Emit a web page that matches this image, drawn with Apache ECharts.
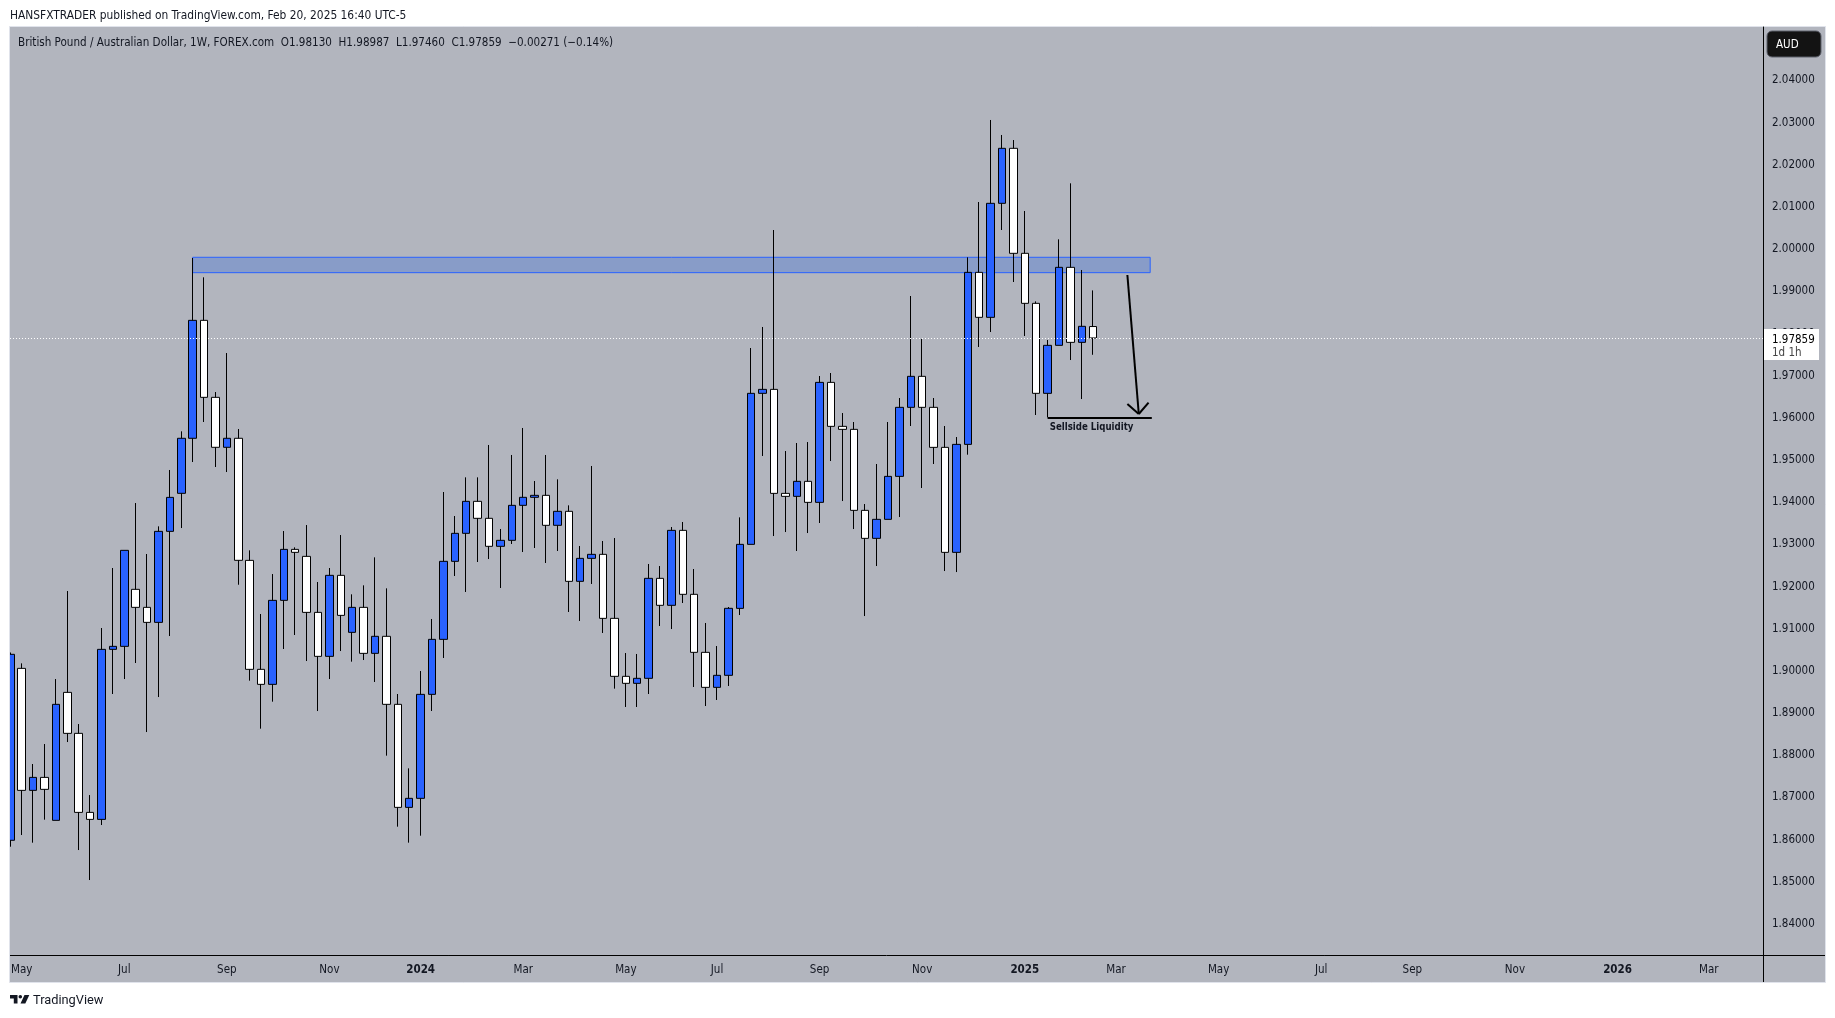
<!DOCTYPE html>
<html><head><meta charset="utf-8">
<style>html,body{margin:0;padding:0;background:#fff}#c{width:1835px;height:1018px}</style>
<script src="https://cdn.jsdelivr.net/npm/echarts@6/dist/echarts.min.js"></script>
</head><body><div id="c"></div>
<script>
const weeks = ['2023-04-24','2023-05-01','2023-05-08','2023-05-15','2023-05-22','2023-05-29','2023-06-05','2023-06-12','2023-06-19','2023-06-26',
'2023-07-03','2023-07-10','2023-07-17','2023-07-24','2023-07-31','2023-08-07','2023-08-14','2023-08-21','2023-08-28','2023-09-04',
'2023-09-11','2023-09-18','2023-09-25','2023-10-02','2023-10-09','2023-10-16','2023-10-23','2023-10-30','2023-11-06','2023-11-13',
'2023-11-20','2023-11-27','2023-12-04','2023-12-11','2023-12-18','2023-12-25','2024-01-01','2024-01-08','2024-01-15','2024-01-22',
'2024-01-29','2024-02-05','2024-02-12','2024-02-19','2024-02-26','2024-03-04','2024-03-11','2024-03-18','2024-03-25','2024-04-01',
'2024-04-08','2024-04-15','2024-04-22','2024-04-29','2024-05-06','2024-05-13','2024-05-20','2024-05-27','2024-06-03','2024-06-10',
'2024-06-17','2024-06-24','2024-07-01','2024-07-08','2024-07-15','2024-07-22','2024-07-29','2024-08-05','2024-08-12','2024-08-19',
'2024-08-26','2024-09-02','2024-09-09','2024-09-16','2024-09-23','2024-09-30','2024-10-07','2024-10-14','2024-10-21','2024-10-28',
'2024-11-04','2024-11-11','2024-11-18','2024-11-25','2024-12-02','2024-12-09','2024-12-16','2024-12-23','2024-12-30','2025-01-06',
'2025-01-13','2025-01-20','2025-01-27','2025-02-03','2025-02-10','2025-02-17'];
const opens = [1.85947,1.90024,1.87131,1.87439,1.86420,1.89455,1.88483,1.86609,1.86443,1.90475,
1.90546,1.91898,1.91471,1.91115,1.93273,1.94175,1.95480,1.98277,1.96451,1.95266,
1.95480,1.92585,1.90001,1.89645,1.91637,1.92846,1.92680,1.91352,1.90309,1.92230,
1.90878,1.91471,1.90380,1.90784,1.89171,1.86728,1.86942,1.89408,1.90712,1.92562,
1.93226,1.93985,1.93582,1.92918,1.93060,1.93890,1.94080,1.94127,1.93416,1.93748,
1.92088,1.92633,1.92728,1.91210,1.89835,1.89669,1.89788,1.92159,1.91519,1.93297,
1.91780,1.90404,1.89574,1.89859,1.91447,1.92965,1.96546,1.96640,1.94174,1.94103,
1.94459,1.93961,1.96806,1.95763,1.95692,1.93771,1.93107,1.93558,1.94577,1.96214,
1.96949,1.96214,1.95265,1.92775,1.95336,1.99415,1.98348,2.01052,2.02356,1.99866,
1.98680,1.96546,1.97684,1.99534,1.97755,1.98130];
const closes = [1.90357,1.87131,1.87439,1.87155,1.89171,1.88483,1.86609,1.86443,1.90475,1.90546,
1.92823,1.91471,1.91115,1.93273,1.94079,1.95480,1.98277,1.96451,1.95266,1.95480,
1.92586,1.90001,1.89645,1.91637,1.92846,1.92775,1.91352,1.90309,1.92230,1.91281,
1.91471,1.90380,1.90784,1.89171,1.86728,1.86942,1.89408,1.90712,1.92562,1.93226,
1.93985,1.93582,1.92918,1.93060,1.93890,1.94080,1.94127,1.93416,1.93748,1.92088,
1.92633,1.92728,1.91210,1.89835,1.89669,1.89788,1.92159,1.91519,1.93297,1.91780,
1.90404,1.89574,1.89859,1.91448,1.92965,1.96546,1.96640,1.94174,1.94103,1.94459,
1.93961,1.96806,1.95763,1.95692,1.93771,1.93107,1.93558,1.94577,1.96214,1.96949,
1.96214,1.95265,1.92775,1.95336,1.99415,1.98348,2.01052,2.02356,1.99866,1.98680,
1.96546,1.97684,1.99534,1.97755,1.98135,1.97859];
const highs = [1.90400,1.90143,1.87756,1.88230,1.89771,1.91858,1.88704,1.87020,1.90981,1.92404,
1.92823,1.93945,1.92736,1.93392,1.94728,1.95645,1.99755,1.99297,1.96577,1.97502,
1.95700,1.92823,1.91313,1.92261,1.93281,1.92894,1.93423,1.92072,1.92404,1.93186,
1.91780,1.91993,1.92657,1.91922,1.89416,1.87653,1.89961,1.91195,1.94206,1.93637,
1.94554,1.94554,1.95321,1.93329,1.95084,1.95724,1.94467,1.95084,1.94507,1.93890,
1.92926,1.94823,1.93044,1.93115,1.90388,1.90365,1.92499,1.92451,1.93376,1.93495,
1.92380,1.91100,1.90554,1.91479,1.93605,1.97621,1.98119,2.00419,1.95178,1.95368,
1.95391,1.96957,1.97028,1.96079,1.95866,1.93921,1.94870,1.95866,1.96435,1.98854,
1.97834,1.96435,1.95771,1.95510,1.99771,2.01083,2.03028,2.02672,2.02553,2.00870,
1.98727,1.97811,2.00198,2.01526,1.99471,1.98987];
const lows = [1.85795,1.86072,1.85890,1.86436,1.86420,1.88277,1.85716,1.85005,1.86309,1.89416,
1.89771,1.90151,1.88514,1.89344,1.90791,1.93352,1.94917,1.95866,1.94799,1.94680,
1.92007,1.89732,1.88594,1.89234,1.90483,1.90815,1.90198,1.89012,1.89771,1.90435,
1.90183,1.90222,1.89701,1.87954,1.86270,1.85891,1.86056,1.89013,1.90270,1.92214,
1.91835,1.92546,1.92617,1.91930,1.92973,1.92783,1.92878,1.92523,1.92807,1.91361,
1.91147,1.92025,1.90863,1.89543,1.89108,1.89108,1.89416,1.91029,1.90957,1.91574,
1.89582,1.89131,1.89274,1.89606,1.91289,1.92965,1.95060,1.93162,1.93257,1.92807,
1.93233,1.93471,1.94941,1.93992,1.93328,1.91265,1.92451,1.93558,1.93613,1.95771,
1.94301,1.94870,1.92332,1.92308,1.95091,1.97645,1.98000,2.00419,1.99186,1.97905,
1.96032,1.95977,1.97684,1.97336,1.96411,1.97460];
const priceTicks = [1.84,1.85,1.86,1.87,1.88,1.89,1.90,1.91,1.92,1.93,1.94,1.95,1.96,1.97,1.98,1.99,2.00,2.01,2.02,2.03,2.04];
const timeTickDates = ['2023-05-01','2023-07-03','2023-09-04','2023-11-06','2024-01-01','2024-03-04','2024-05-06','2024-07-01','2024-09-02','2024-11-04','2025-01-06','2025-03-03','2025-05-05','2025-07-07','2025-09-01','2025-11-03','2026-01-05','2026-03-02'];
const timeTickLabels = ['May','Jul','Sep','Nov','2024','Mar','May','Jul','Sep','Nov','2025','Mar','May','Jul','Sep','Nov','2026','Mar'];
const headerText = 'HANSFXTRADER published on TradingView.com, Feb 20, 2025 16:40 UTC-5';
const legendText = 'British Pound / Australian Dollar, 1W, FOREX.com  O1.98130  H1.98987  L1.97460  C1.97859  \u22120.00271 (\u22120.14%)';

const FONT = '"DejaVu Sans Condensed", "DejaVu Sans"';
const FS = 11.5;
const ts = s => new Date(s + 'T00:00:00Z').getTime();
const tickLabelByTime = new Map(timeTickDates.map((d, i) => [ts(d), timeTickLabels[i]]));
const candles = weeks.map((w, i) => [ts(w), opens[i], closes[i], lows[i], highs[i]]);
const lastClose = closes[closes.length - 1];
const ink = { color: '#000', width: 2, type: 'solid' };
const seg = (a, av, b, bv, style) => [{ coord: [ts(a), av], lineStyle: style }, { coord: [ts(b), bv] }];

const chart = echarts.init(document.getElementById('c'), null, { renderer: 'canvas', width: 1835, height: 1018 });
chart.setOption({
  animation: false,
  backgroundColor: '#ffffff',
  title: [
    { text: headerText, left: 10, top: 10, padding: 0, textStyle: { fontFamily: FONT, fontSize: 11.85, fontWeight: 'normal', color: '#131722' } },
    { text: legendText, left: 18, top: 37, padding: 0, textStyle: { fontFamily: FONT, fontSize: 11.57, fontWeight: 'normal', color: '#131722' } },
    { text: 'TradingView', left: 33, top: 994, padding: 0, textStyle: { fontFamily: 'Roboto', fontSize: 12.8, fontWeight: 'normal', color: '#131722' } }
  ],
  grid: { left: 10, top: 27, right: 72, bottom: 63, containLabel: false },
  xAxis: {
    type: 'value',
    min: ts('2023-04-23') + 20 * 3600e3,
    max: ts('2026-04-04') + 7.67 * 3600e3,
    splitLine: { show: false },
    axisTick: { show: false },
    axisLine: { show: true, onZero: false, lineStyle: { color: '#000', width: 1 } },
    axisLabel: {
      customValues: timeTickDates.map(ts),
      margin: 9,
      hideOverlap: false,
      fontFamily: FONT, fontSize: FS, color: '#131722',
      formatter: v => {
        const t = tickLabelByTime.get(v);
        return /^\d/.test(t) ? '{y|' + t + '}' : t;
      },
      rich: { y: { fontFamily: FONT, fontSize: FS, fontWeight: 'bold', color: '#131722' } }
    }
  },
  yAxis: {
    type: 'value',
    position: 'right',
    min: 1.83227,
    max: 2.05233,
    splitLine: { show: false },
    axisTick: { show: false },
    axisLine: { show: true, onZero: false, lineStyle: { color: '#000', width: 1 } },
    axisLabel: {
      customValues: priceTicks,
      margin: 9,
      fontFamily: FONT, fontSize: FS, color: '#131722',
      formatter: v => '{p|' + v.toFixed(5) + '}',
      rich: { p: { fontFamily: FONT, fontSize: FS, color: '#131722', padding: [3, 0, 0, 0] } }
    }
  },
  series: [{
    type: 'candlestick',
    name: 'GBPAUD',
    barWidth: 8,
    data: candles,
    encode: { x: 0, y: [1, 2, 3, 4] },
    itemStyle: { color: '#2962ff', color0: '#ffffff', borderColor: '#000', borderColor0: '#000', borderWidth: 1 },
    markArea: {
      silent: true,
      itemStyle: { color: 'rgba(41,98,225,0.3)', borderColor: '#2962ff', borderWidth: 1 },
      data: [[{ coord: [ts('2023-08-14'), 1.99772] }, { coord: [ts('2025-03-24'), 1.99407] }]]
    },
    markLine: {
      silent: true,
      symbol: 'none',
      precision: 5,
      label: { show: false },
      data: [
        { yAxis: lastClose, lineStyle: { color: '#fff', width: 1, type: [1, 2] } },
        seg('2025-01-20', 1.95961, '2025-03-25', 1.95961, ink),
        seg('2025-03-10', 1.99352, '2025-03-17', 1.96056, ink),
        seg('2025-03-10', 1.96293, '2025-03-17', 1.96056, ink),
        seg('2025-03-23', 1.96324, '2025-03-17', 1.96056, ink)
      ]
    },
    markPoint: {
      silent: true,
      symbol: 'rect',
      symbolSize: 1,
      itemStyle: { color: 'rgba(0,0,0,0)' },
      data: [{
        coord: [ts('2025-02-16'), 1.95740],
        label: { show: true, position: 'inside', formatter: 'Sellside Liquidity', fontFamily: FONT, fontSize: 9.6, fontWeight: 'bold', color: '#131722' }
      }]
    }
  }],
  graphic: { elements: [
    { type: 'rect', z: -100, shape: { x: 9.5, y: 26.5, width: 1816, height: 956 }, style: { fill: '#b2b5be', stroke: '#e0e3eb', lineWidth: 1 } },
    { type: 'rect', z: 15, shape: { x: 0, y: 27, width: 9.5, height: 955 }, style: { fill: '#ffffff' } },
    { type: 'line', z: 16, shape: { x1: 9.5, y1: 27, x2: 9.5, y2: 982 }, style: { stroke: '#e0e3eb', lineWidth: 1 } },
    { type: 'line', z: 10, shape: { x1: 1763.5, y1: 955, x2: 1763.5, y2: 982 }, style: { stroke: '#000', lineWidth: 1 } },
    { type: 'line', z: 10, shape: { x1: 1763, y1: 955.5, x2: 1825, y2: 955.5 }, style: { stroke: '#000', lineWidth: 1 } },
    { type: 'rect', z: 20, shape: { x: 1767, y: 31, width: 54, height: 26, r: 5 }, style: { fill: '#131313', stroke: '#5d606b', lineWidth: 1 } },
    { type: 'text', z: 21, style: { x: 1776, y: 45.5, text: 'AUD', fill: '#fff', font: FS + 'px ' + FONT, verticalAlign: 'middle' } },
    { type: 'rect', z: 20, shape: { x: 1764, y: 329, width: 55, height: 31 }, style: { fill: '#ffffff' } },
    { type: 'text', z: 21, style: { x: 1772, y: 340, text: lastClose.toFixed(5), fill: '#000', font: FS + 'px ' + FONT, verticalAlign: 'middle' } },
    { type: 'text', z: 21, style: { x: 1772, y: 353, text: '1d 1h', fill: '#444', font: FS + 'px ' + FONT, verticalAlign: 'middle' } },
    { type: 'polygon', z: 20, shape: { points: [[10,995],[17.5,995],[17.5,1003.5],[13.8,1003.5],[13.8,998.5],[10,998.5]] }, style: { fill: '#131722' } },
    { type: 'circle', z: 20, shape: { cx: 20.3, cy: 996.8, r: 1.8 }, style: { fill: '#131722' } },
    { type: 'polygon', z: 20, shape: { points: [[24.5,995],[29.3,995],[25.3,1003.5],[20.5,1003.5]] }, style: { fill: '#131722' } }
  ] }
});
</script></body></html>
